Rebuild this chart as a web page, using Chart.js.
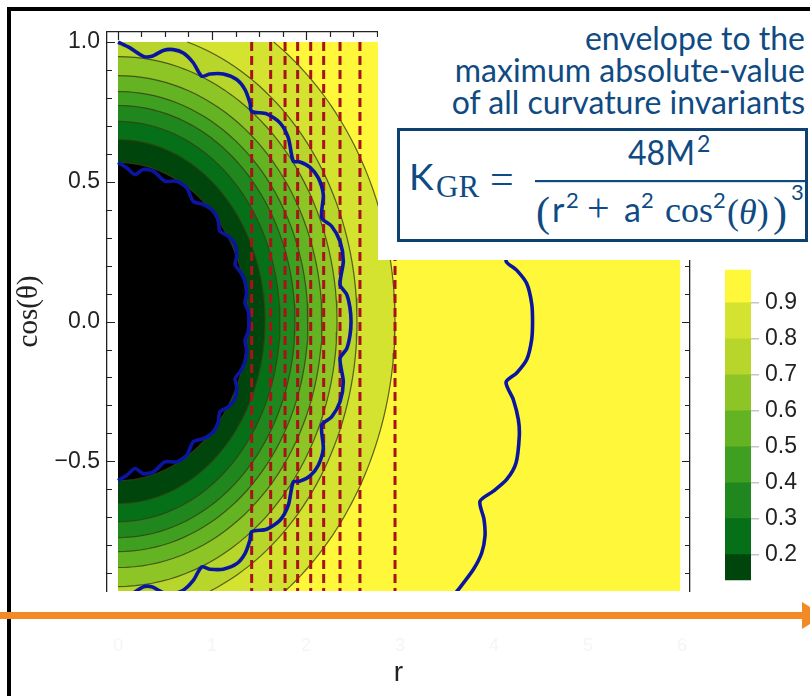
<!DOCTYPE html>
<html>
<head>
<meta charset="utf-8">
<script src="https://cdn.jsdelivr.net/npm/chart.js@4.4.1/dist/chart.umd.min.js"></script>
<style>
  html, body { margin: 0; padding: 0; background: #fff; }
  #stage { position: relative; width: 810px; height: 696px; overflow: hidden; }
  #plot { position: absolute; left: 0; top: 0; }
  #cbar { position: absolute; left: 700px; top: 250px; }
  #notes { position: absolute; left: 0; top: 0; pointer-events: none; }
</style>
</head>
<body>
<div id="stage">
  <canvas id="plot" width="810" height="696"></canvas>
  <canvas id="cbar" width="110" height="350"></canvas>
  <svg id="notes" width="810" height="696" xmlns="http://www.w3.org/2000/svg">
    <rect x="378" y="12" width="432" height="248" fill="#fff"/>
    <rect x="7" y="7" width="803" height="4" fill="#000"/>
    <rect x="7" y="7" width="4" height="689" fill="#000"/>
    <g font-family="Lato" font-size="32" fill="#0f4b82" text-anchor="end">
      <text x="805" y="50">envelope to the</text>
      <text x="805" y="82">maximum absolute-value</text>
      <text x="805" y="114">of all curvature invariants</text>
    </g>
    <rect x="398.5" y="129.5" width="408" height="111" fill="#fff" stroke="#0f4170" stroke-width="3"/>
    <g fill="#0f4b82">
      <text x="409" y="190" font-family="Lato" font-size="37">K</text>
      <text x="436" y="197" font-family="Liberation Serif" font-size="31">GR</text>
      <text x="490" y="193" font-family="Liberation Serif" font-size="42">=</text>
      <text x="628" y="165" font-family="Lato" font-size="35" textLength="67" lengthAdjust="spacingAndGlyphs">48M</text>
      <text x="697" y="152" font-family="Lato" font-size="23">2</text>
      <rect x="535" y="180" width="270" height="2.2"/>
      <text x="536" y="226" font-family="Liberation Serif" font-size="42">(</text>
      <text x="552" y="222" font-family="Lato" font-size="34">r</text>
      <text x="566" y="208" font-family="Lato" font-size="22">2</text>
      <text x="587" y="221" font-family="Liberation Serif" font-size="40">+</text>
      <text x="624" y="222" font-family="Lato" font-size="34">a</text>
      <text x="641" y="208" font-family="Lato" font-size="22">2</text>
      <text x="665" y="222" font-family="Liberation Serif" font-size="36">cos</text>
      <text x="713" y="208" font-family="Lato" font-size="22">2</text>
      <text x="727" y="224" font-family="Liberation Serif" font-size="36">(<tspan font-style="italic">θ</tspan>)</text>
      <text x="773" y="226" font-family="Liberation Serif" font-size="42">)</text>
      <text x="791" y="200" font-family="Lato" font-size="22">3</text>
    </g>
    <rect x="0" y="612" width="805" height="7" fill="#f28a26"/>
    <polygon points="802,602 824,615.5 802,629" fill="#f28a26"/>
  </svg>
</div>
<script>
// axis ranges (frame) and the region covered by the density plot
const rMin = -0.117;
const rMax = 6.085;
const cosMin = -0.964;
const cosMax = 1.036;
const rImage = 5.98;
const cosTop = 1.0;
const cosBottom = -0.964;

const rTicks = [0, 1, 2, 3, 4, 5, 6];
const cosTicks = [-0.5, 0, 0.5, 1.0];
const cosMinor = [-0.9, -0.8, -0.7, -0.6, -0.5, -0.4, -0.3, -0.2, -0.1, 0,
  0.1, 0.2, 0.3, 0.4, 0.5, 0.6, 0.7, 0.8, 0.9, 1.0];

// contour levels, colour inside each level, and the half-axes
const levels = [0.1, 0.2, 0.3, 0.4, 0.5, 0.6, 0.7, 0.8, 0.9];
const levelColors = ["#000000", "#00460c", "#067018", "#1f871e", "#3e9f20",
  "#63b322", "#8dc426", "#b8d52c", "#d4e230"];
const outsideColor = "#fff73a";
const levelR = [1.383, 1.564, 1.723, 1.883, 2.021, 2.170, 2.330, 2.543, 2.947];
const levelCos = [0.569, 0.651, 0.716, 0.773, 0.823, 0.880, 0.948, 1.045, 1.209];

// red dashed verticals
const dashedR = [1.422, 1.624, 1.777, 1.911, 2.050, 2.188, 2.362, 2.574, 2.947];

// blue envelope curves
const outerR = [0.000, 0.128, 0.269, 0.359, 0.482, 0.588, 0.695, 0.801, 0.890, 0.979,
  1.120, 1.263, 1.351, 1.404, 1.422, 1.582, 1.723, 1.812, 1.865, 1.936, 2.043, 2.131,
  2.184, 2.167, 2.273, 2.362, 2.397, 2.362, 2.433, 2.468, 2.479, 2.468, 2.433, 2.362,
  2.397, 2.362, 2.273, 2.167, 2.184, 2.131, 2.043, 1.936, 1.865, 1.812, 1.723, 1.582,
  1.422, 1.404, 1.351, 1.263, 1.120, 0.979, 0.890, 0.801, 0.695, 0.588, 0.482, 0.359,
  0.269, 0.128, 0.000];
const outerCos = [1.000, 0.979, 0.949, 0.949, 0.970, 0.973, 0.961, 0.926, 0.878, 0.886,
  0.886, 0.866, 0.830, 0.782, 0.752, 0.743, 0.711, 0.657, 0.574, 0.571, 0.552, 0.514,
  0.454, 0.371, 0.341, 0.287, 0.216, 0.132, 0.097, 0.049, 0.000, -0.049, -0.097, -0.132,
  -0.216, -0.287, -0.341, -0.371, -0.454, -0.514, -0.552, -0.571, -0.574, -0.657, -0.711,
  -0.743, -0.752, -0.782, -0.830, -0.866, -0.886, -0.886, -0.878, -0.926, -0.961, -0.973,
  -0.970, -0.949, -0.949, -0.979, -1.000];

const innerR = [0.000, 0.093, 0.181, 0.269, 0.376, 0.500, 0.624, 0.731, 0.801, 0.907,
  1.014, 1.067, 1.085, 1.173, 1.245, 1.263, 1.245, 1.298, 1.351, 1.369, 1.351, 1.386,
  1.394, 1.386, 1.351, 1.369, 1.351, 1.298, 1.245, 1.263, 1.245, 1.173, 1.085, 1.067,
  1.014, 0.907, 0.801, 0.731, 0.624, 0.500, 0.376, 0.269, 0.181, 0.093, 0.000];
const innerCos = [0.569, 0.550, 0.526, 0.544, 0.538, 0.502, 0.502, 0.478, 0.430, 0.419,
  0.395, 0.359, 0.323, 0.305, 0.275, 0.234, 0.204, 0.180, 0.144, 0.103, 0.067, 0.037,
  0.000, -0.037, -0.067, -0.103, -0.144, -0.180, -0.204, -0.234, -0.275, -0.305, -0.323,
  -0.359, -0.395, -0.419, -0.430, -0.478, -0.502, -0.502, -0.538, -0.544, -0.526, -0.550,
  -0.569];

const farR = [3.532, 3.620, 3.780, 3.869, 3.904, 3.894, 3.851, 3.993, 4.135, 4.234, 4.269,
  4.259, 4.205, 4.128, 4.241, 4.348, 4.401, 4.410, 4.401, 4.348, 4.241, 4.128, 4.205,
  4.259, 4.269, 4.234, 4.135, 3.993, 3.851, 3.894, 3.904, 3.869, 3.780, 3.620, 3.532];
const farCos = [0.995, 0.959, 0.887, 0.828, 0.768, 0.708, 0.643, 0.607, 0.565, 0.506, 0.410,
  0.351, 0.279, 0.217, 0.184, 0.136, 0.064, 0.000, -0.064, -0.136, -0.184, -0.217, -0.279,
  -0.351, -0.410, -0.506, -0.565, -0.607, -0.643, -0.708, -0.768, -0.828, -0.887, -0.959,
  -0.995];

const pts = (rs, cs) => rs.map((r, i) => ({ x: r, y: cs[i] }));

// contour of one level, cut to the plotted region
const halfEllipse = (a, b) => {
  const t0 = Math.asin(Math.min(1, cosTop / b));
  const t1 = -Math.asin(Math.min(1, -cosBottom / b));
  const out = [];
  for (let i = 0; i <= 80; i++) {
    const t = t0 + (t1 - t0) * i / 80;
    out.push({ x: a * Math.cos(t), y: b * Math.sin(t) });
  }
  return out;
};

const datasets = [];

datasets.push({
  data: [{ x: rImage, y: cosTop }, { x: rImage, y: cosBottom }],
  fill: "origin",
  backgroundColor: outsideColor,
  borderWidth: 0,
  order: 50
});

levels.forEach((lvl, i) => {
  datasets.push({
    label: String(lvl),
    data: halfEllipse(levelR[i], levelCos[i]),
    fill: "origin",
    backgroundColor: levelColors[i],
    borderColor: "rgba(55, 62, 18, 0.8)",
    borderWidth: 1.2,
    order: 30 + i
  });
});

dashedR.forEach((r) => {
  datasets.push({
    data: [{ x: r, y: cosTop }, { x: r, y: cosBottom }],
    borderColor: "#a8121a",
    borderWidth: 3,
    borderDash: [9, 5],
    order: 10
  });
});

[pts(outerR, outerCos), pts(innerR, innerCos), pts(farR, farCos)].forEach((curve) => {
  datasets.push({
    data: curve,
    borderColor: "#0b16a0",
    borderWidth: 3.6,
    tension: 0.25,
    order: 1
  });
});

const frameTicks = {
  id: "frameTicks",
  afterDraw(chart) {
    const { ctx, chartArea: a, scales: { x, y } } = chart;
    ctx.save();
    ctx.strokeStyle = "#222";
    ctx.lineWidth = 1.2;
    ctx.beginPath();
    cosMinor.forEach((v) => {
      const py = Math.round(y.getPixelForValue(v)) + 0.5;
      const len = cosTicks.includes(v) ? 8 : 5;
      ctx.moveTo(a.left, py);
      ctx.lineTo(a.left + len, py);
      ctx.moveTo(a.right, py);
      ctx.lineTo(a.right - len, py);
    });
    for (let v = 0; v <= 6; v += 0.25) {
      const px = Math.round(x.getPixelForValue(v)) + 0.5;
      const len = Number.isInteger(v) ? 8 : 5;
      ctx.moveTo(px, a.top);
      ctx.lineTo(px, a.top + len);
    }
    ctx.stroke();
    ctx.restore();
  }
};

const frame = { color: "#222", width: 1.3 };
const noGrid = { display: false, drawTicks: false };
const fixedTicks = (values) => (s) => { s.ticks = values.map((value) => ({ value })); };

new Chart(document.getElementById("plot").getContext("2d"), {
  type: "line",
  data: { datasets },
  plugins: [frameTicks],
  options: {
    indexAxis: "y",
    responsive: false,
    animation: false,
    devicePixelRatio: 1,
    events: [],
    layout: { padding: 0 },
    elements: { point: { radius: 0 }, line: { tension: 0 } },
    plugins: { legend: { display: false }, tooltip: { enabled: false } },
    scales: {
      x: {
        type: "linear",
        position: "bottom",
        bounds: "data",
        min: rMin,
        max: rMax,
        afterBuildTicks: fixedTicks(rTicks),
        afterFit: (s) => { s.height = 105; },
        border: { display: false },
        grid: noGrid,
        ticks: {
          padding: 44,
          color: "#f5f5f5",
          font: { family: "Liberation Sans", size: 18 }
        },
        title: {
          display: true,
          text: "r",
          color: "#222",
          font: { family: "Liberation Sans", size: 28 },
          padding: { top: 0, bottom: 6 }
        }
      },
      x2: {
        type: "linear",
        position: "top",
        bounds: "data",
        min: rMin,
        max: rMax,
        afterFit: (s) => { s.height = 32; },
        border: frame,
        grid: noGrid,
        ticks: { display: false }
      },
      y: {
        type: "linear",
        position: "left",
        bounds: "data",
        min: cosMin,
        max: cosMax,
        afterBuildTicks: fixedTicks(cosTicks),
        afterFit: (s) => { s.width = 107; },
        border: frame,
        grid: noGrid,
        ticks: {
          padding: 7,
          color: "#222",
          font: { family: "Liberation Sans", size: 23 },
          callback: (v) => v.toFixed(1).replace("-", "\u2212")
        },
        title: {
          display: true,
          text: "cos(θ)",
          color: "#222",
          font: { family: "Liberation Serif", size: 29 },
          padding: { top: 12, bottom: 0 }
        }
      },
      y2: {
        type: "linear",
        position: "right",
        bounds: "data",
        min: cosMin,
        max: cosMax,
        afterFit: (s) => { s.width = 120; },
        border: frame,
        grid: noGrid,
        ticks: { display: false }
      }
    }
  }
});

// colour bar: one floating bar per band
const barLow = [0.1, 0.2, 0.3, 0.4, 0.5, 0.6, 0.7, 0.8, 0.9];
const barHigh = [0.2, 0.3, 0.4, 0.5, 0.6, 0.7, 0.8, 0.9, 1.0];
const barColors = levelColors.slice(1).concat([outsideColor]);
const barTicks = [0.2, 0.3, 0.4, 0.5, 0.6, 0.7, 0.8, 0.9];

new Chart(document.getElementById("cbar").getContext("2d"), {
  type: "bar",
  data: {
    labels: [""],
    datasets: barLow.map((lo, i) => ({
      data: [[lo, barHigh[i]]],
      backgroundColor: barColors[i],
      borderWidth: 0,
      grouped: false,
      barPercentage: 1,
      categoryPercentage: 1
    }))
  },
  options: {
    responsive: false,
    animation: false,
    devicePixelRatio: 1,
    events: [],
    layout: { padding: { left: 25, top: 11, bottom: 10, right: 0 } },
    plugins: { legend: { display: false }, tooltip: { enabled: false } },
    scales: {
      x: { display: false },
      y: {
        position: "right",
        bounds: "data",
        min: 0.129,
        max: 0.992,
        z: 1,
        afterBuildTicks: fixedTicks(barTicks),
        afterFit: (s) => { s.width = 59; },
        border: { display: false },
        grid: { color: "rgba(55, 60, 20, 0.9)", lineWidth: 1.5, tickColor: "#c4c4c4", tickLength: 8 },
        ticks: {
          padding: 6,
          color: "#222",
          font: { family: "Liberation Sans", size: 23 },
          callback: (v) => v.toFixed(1)
        }
      }
    }
  }
});
</script>
</body>
</html>
